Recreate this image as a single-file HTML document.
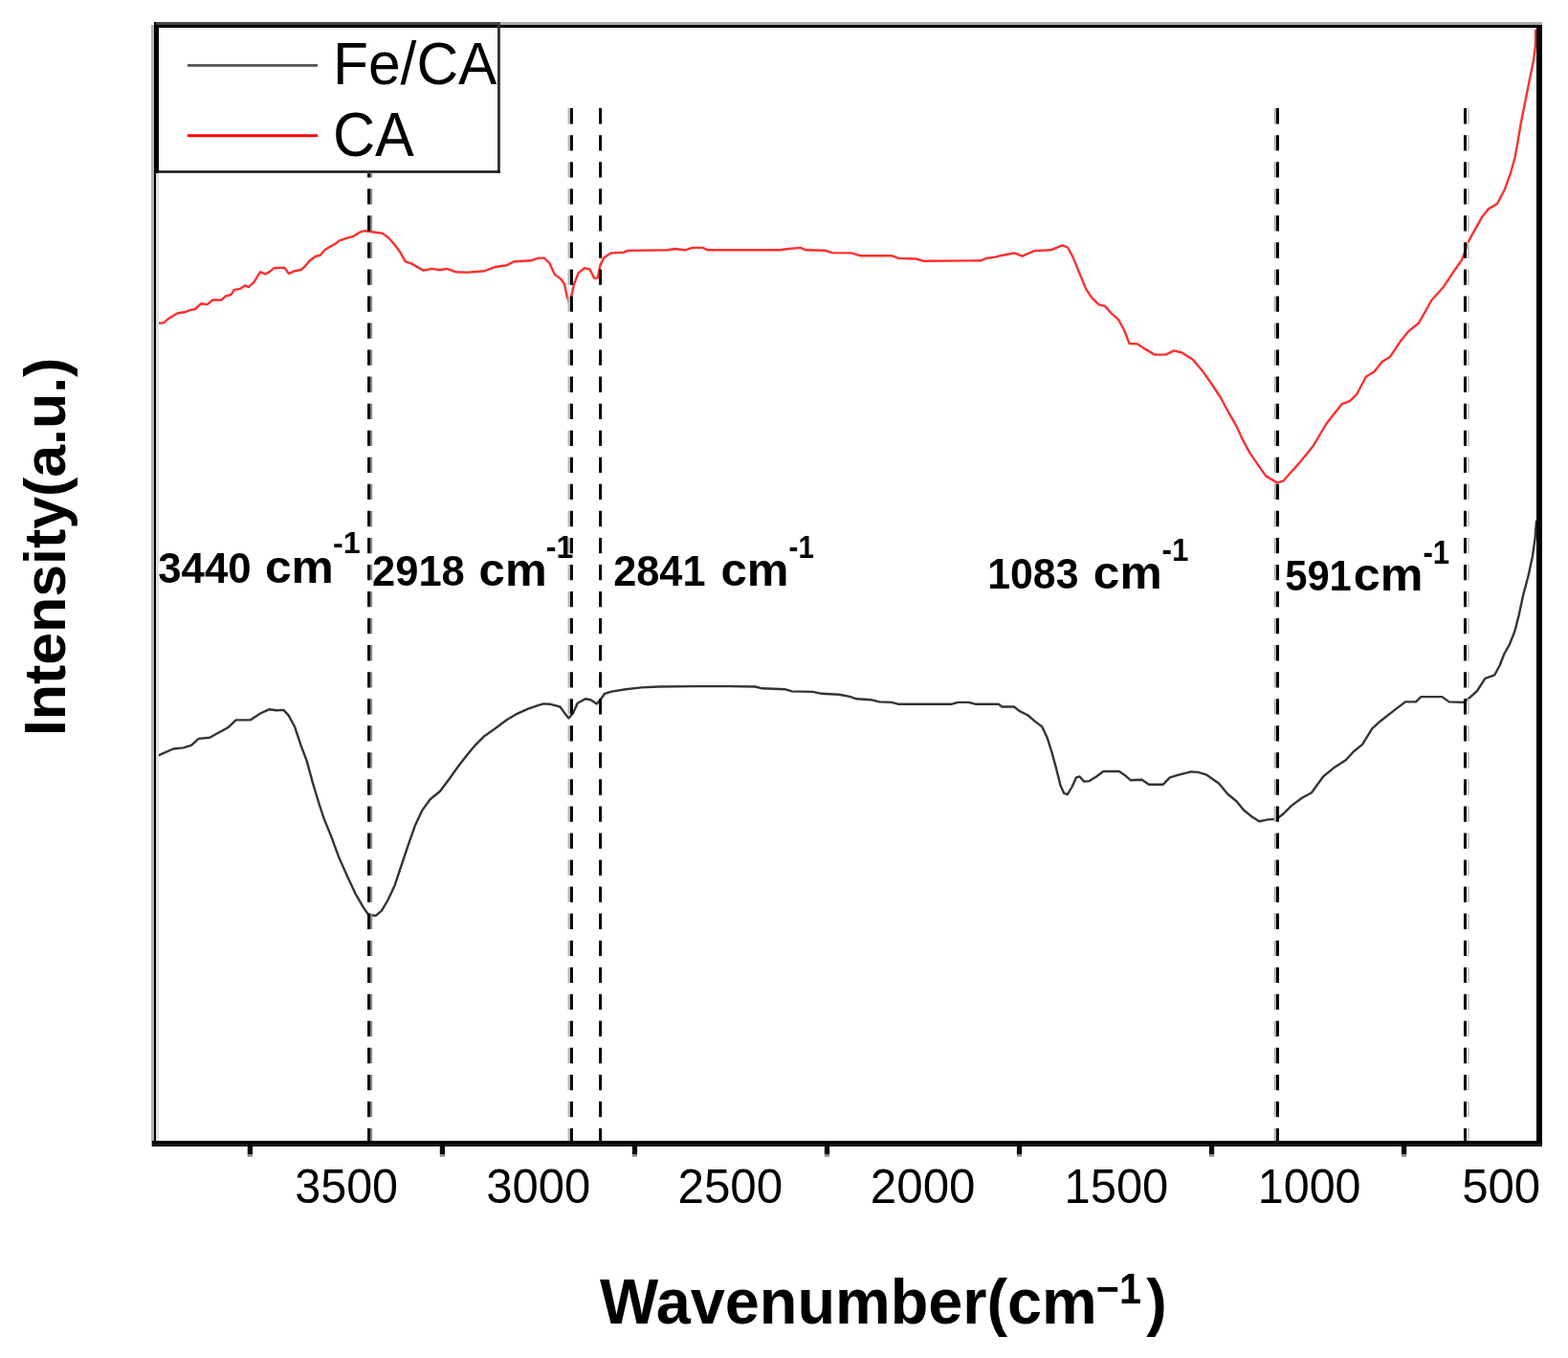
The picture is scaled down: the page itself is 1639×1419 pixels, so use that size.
<!DOCTYPE html>
<html lang="en">
<head>
<meta charset="utf-8">
<title>FTIR spectra of Fe/CA and CA</title>
<style>
html,body{margin:0;padding:0;background:#fff;}
body{width:1639px;height:1419px;}
svg{display:block;}
text{font-family:"Liberation Sans", sans-serif;fill:#000;white-space:pre;}
.b{font-weight:bold;}
</style>
</head>
<body>
<svg width="1639" height="1419" viewBox="0 0 1639 1419">
<rect x="0" y="0" width="1639" height="1419" fill="#ffffff"/>

<polyline points="160.9,338.2 171.0,337.3 176.5,332.7 185.6,327.2 193.0,326.3 198.4,324.1 204.0,323.0 210.3,317.2 216.7,318.1 222.2,313.5 231.4,313.5 236.0,309.3 241.5,308.0 244.6,302.9 251.5,301.6 256.1,298.5 259.8,299.8 265.3,295.2 272.0,284.2 277.2,286.4 281.7,284.2 286.3,280.2 297.3,279.6 301.9,286.0 307.4,283.3 314.7,282.0 319.3,277.8 323.8,272.3 330.2,267.7 334.8,266.8 339.4,261.3 344.9,257.7 350.4,254.9 355.0,251.3 361.4,249.1 368.7,247.2 376.0,242.7 381.5,241.2 390.6,242.5 399.8,243.9 406.2,248.5 412.6,255.8 418.1,263.2 423.6,273.2 430.0,275.4 436.4,279.1 442.8,282.7 451.0,280.9 460.0,282.0 467.3,280.9 476.5,284.2 489.3,284.6 505.8,283.3 518.6,278.7 529.6,277.2 537.8,273.2 555.2,272.3 562.5,269.6 568.9,269.6 574.4,275.0 579.9,286.9 586.3,291.5 590.0,297.0 592.7,309.8 594.9,316.2 597.6,308.0 600.0,297.0 604.6,285.1 611.0,280.2 616.5,281.5 621.1,290.6 624.7,290.6 627.5,276.9 631.1,269.6 638.5,264.4 652.2,263.7 655.9,261.9 698.0,261.3 705.3,260.0 716.3,261.3 723.6,258.9 734.6,258.9 740.0,261.3 760.0,261.3 814.9,261.3 824.0,260.0 836.9,258.9 842.4,261.3 862.5,261.7 869.8,264.1 890.0,264.4 899.1,267.2 932.0,267.2 939.4,269.9 957.7,270.5 965.0,272.7 1025.4,272.3 1030.9,269.9 1040.0,268.6 1045.6,267.2 1060.0,264.4 1068.5,267.6 1081.1,262.1 1098.1,261.3 1110.7,256.4 1116.0,258.5 1121.3,268.1 1127.7,283.9 1135.1,301.9 1141.4,311.4 1148.8,318.4 1155.1,319.9 1161.5,327.3 1168.9,333.6 1175.2,345.2 1180.5,359.0 1189.0,359.4 1197.4,364.9 1206.9,370.6 1218.6,370.6 1227.0,366.4 1235.5,368.5 1247.1,375.9 1257.7,388.6 1267.2,402.3 1275.6,415.0 1284.1,430.8 1292.6,445.6 1298.9,459.4 1306.3,473.1 1315.8,486.9 1323.2,497.4 1334.8,504.4 1341.2,502.7 1349.6,493.2 1360.1,481.6 1372.8,465.7 1386.6,442.5 1402.4,422.4 1410.9,419.2 1418.3,411.8 1427.8,393.8 1436.3,388.6 1444.7,378.0 1453.2,372.7 1463.7,356.8 1472.2,346.3 1482.8,337.8 1491.2,323.0 1496.5,313.5 1508.1,300.8 1518.7,285.0 1528.2,271.2 1535.6,251.1 1542.5,238.6 1549.5,226.2 1555.7,218.4 1565.0,213.0 1572.7,198.3 1578.9,181.2 1583.6,164.2 1586.7,147.1 1589.8,128.5 1592.9,113.0 1596.0,97.5 1599.1,82.0 1602.9,63.4 1605.0,47.9 1605.3,29.3" fill="none" stroke="#ff0000" stroke-opacity="0.82" stroke-width="2.4" stroke-linejoin="round" stroke-linecap="butt"/>
<polyline points="162.1,790.9 170.6,787.1 181.1,782.5 191.7,781.4 200.2,778.6 207.6,771.9 219.2,770.8 227.7,766.0 238.2,760.3 246.7,752.4 261.5,752.4 272.1,745.5 281.6,741.2 289.0,742.3 296.4,741.9 301.7,747.6 308.0,759.2 314.3,778.2 320.7,795.1 327.0,818.4 333.4,839.5 338.6,855.4 346.0,873.4 354.5,896.6 363.0,915.6 371.4,933.6 379.9,948.4 385.2,955.8 392.6,956.9 398.9,951.6 405.2,941.0 412.6,925.2 420.0,903.0 426.4,883.9 433.8,862.8 441.2,846.9 449.6,835.3 460.0,826.8 469.2,814.5 478.3,801.7 487.5,789.8 496.6,778.8 505.8,769.6 518.6,760.5 529.6,752.2 540.5,745.8 551.5,740.9 560.7,737.6 568.0,735.4 575.3,735.8 585.4,738.5 590.0,744.9 594.5,750.4 599.1,744.9 603.7,734.8 611.9,730.3 617.4,731.2 623.8,735.4 627.5,731.2 632.1,724.8 639.4,722.6 654.0,720.2 670.5,718.4 688.8,717.5 725.4,717.1 760.0,717.1 789.3,717.5 796.6,719.3 820.4,720.2 827.7,722.4 849.7,722.9 858.8,724.8 877.1,725.7 888.1,727.9 895.5,730.3 910.1,731.2 919.3,733.4 932.1,733.9 939.4,735.8 994.3,735.8 1001.6,733.9 1012.6,733.9 1019.9,735.8 1043.7,735.8 1047.4,738.5 1060.0,738.5 1065.5,742.9 1074.6,747.5 1082.0,753.9 1089.3,759.4 1094.8,771.3 1099.4,785.9 1103.9,802.4 1108.5,820.7 1112.2,828.9 1115.8,830.2 1120.4,822.5 1125.0,812.4 1128.6,811.5 1133.2,816.6 1138.7,816.1 1146.0,811.5 1153.4,806.0 1169.8,806.0 1175.3,809.7 1181.7,815.2 1193.6,814.8 1200.9,819.8 1215.6,819.8 1222.9,812.4 1232.1,809.7 1244.9,806.4 1252.2,806.9 1261.4,809.7 1274.2,818.8 1283.3,829.8 1292.5,837.2 1299.8,846.3 1308.9,853.6 1316.3,858.2 1325.4,856.4 1334.6,855.8 1341.9,850.0 1350.0,841.9 1361.0,833.7 1371.0,828.2 1382.9,811.7 1393.9,802.6 1406.7,794.3 1415.0,785.2 1424.1,777.9 1434.2,761.4 1443.3,753.2 1456.2,743.1 1469.0,733.4 1480.0,733.4 1485.4,728.1 1507.4,728.1 1514.7,733.4 1529.4,733.9 1535.8,729.4 1544.0,722.0 1552.4,708.9 1562.3,705.3 1567.9,694.8 1572.2,683.5 1577.8,673.6 1583.4,659.5 1587.7,642.6 1591.9,622.9 1597.5,601.7 1601.8,582.0 1604.6,562.3 1606.0,544.0" fill="none" stroke="#111111" stroke-opacity="0.85" stroke-width="2.4" stroke-linejoin="round" stroke-linecap="butt"/>
<g fill="none">
<line x1="388.15" y1="113.1" x2="388.15" y2="1193" stroke="#8a8a8a" stroke-width="2.10" stroke-dasharray="16.3 11.75"/>
<line x1="385.60" y1="113.1" x2="385.60" y2="1193" stroke="#000" stroke-width="3.00" stroke-dasharray="16.3 11.75"/>
<line x1="594.75" y1="113.1" x2="594.75" y2="1193" stroke="#bbbbbb" stroke-width="2.50" stroke-dasharray="16.3 11.75"/>
<line x1="597.45" y1="113.1" x2="597.45" y2="1193" stroke="#000" stroke-width="2.90" stroke-dasharray="16.3 11.75"/>
<line x1="627.55" y1="113.1" x2="627.55" y2="1193" stroke="#000" stroke-width="2.90" stroke-dasharray="16.3 11.75"/>
<line x1="1332.75" y1="113.1" x2="1332.75" y2="1193" stroke="#bbbbbb" stroke-width="2.30" stroke-dasharray="16.3 11.75"/>
<line x1="1335.45" y1="113.1" x2="1335.45" y2="1193" stroke="#000" stroke-width="3.10" stroke-dasharray="16.3 11.75"/>
<line x1="1534.85" y1="113.1" x2="1534.85" y2="1193" stroke="#cccccc" stroke-width="2.10" stroke-dasharray="16.3 11.75"/>
<line x1="1531.50" y1="113.1" x2="1531.50" y2="1193" stroke="#000" stroke-width="3.00" stroke-dasharray="16.3 11.75"/>
</g>
<rect x="160.7" y="23.3" width="362.3" height="157.8" fill="#fff"/>
<line x1="195.9" y1="68.4" x2="332.0" y2="68.4" stroke="#555" stroke-width="2.9"/>
<line x1="195.9" y1="141.7" x2="332.0" y2="141.7" stroke="#ff0000" stroke-width="2.9"/>
<text x="347.91" y="87.58" font-size="62.04" textLength="171.59" lengthAdjust="spacingAndGlyphs">Fe/CA</text>
<text x="347.94" y="162.56" font-size="63.89" textLength="84.96" lengthAdjust="spacingAndGlyphs">CA</text>
<g shape-rendering="crispEdges">
<rect x="160.7" y="23.3" width="1451.2" height="2.7" fill="#aaaaaa"/>
<rect x="160.7" y="23.3" width="362.3" height="2.7" fill="#444444"/>
<rect x="160.7" y="26" width="1451.2" height="2.75" fill="#000"/>
<rect x="160.7" y="28.75" width="1446" height="2.2" fill="#f0f0f0"/>
<rect x="158" y="26" width="2.7" height="1171.8" fill="#b3b3b3"/>
<rect x="160.7" y="23.3" width="2.3" height="1174.5" fill="#000"/>
<rect x="163" y="181.1" width="2.8" height="1011.5" fill="#e0e0e0"/>
<rect x="163" y="26" width="2.8" height="155.1" fill="#000"/>
<rect x="1606.4" y="26" width="5.5" height="1171.8" fill="#000"/>
<rect x="159.2" y="1192.3" width="1452.7" height="2.8" fill="#000"/>
<rect x="159.2" y="1195.1" width="1452.7" height="2.7" fill="#1a1a1a"/>
</g>
<rect x="520.0" y="26" width="2.9" height="154.8" fill="#333"/>
<rect x="163" y="178.2" width="359.9" height="2.6" fill="#1a1a1a"/>
<rect x="258.75" y="1195" width="5.3" height="11" fill="#0a0a0a"/><rect x="258.75" y="1206" width="5.3" height="2.7" fill="#8a8a8a"/>
<rect x="459.78" y="1195" width="5.3" height="11" fill="#0a0a0a"/><rect x="459.78" y="1206" width="5.3" height="2.7" fill="#8a8a8a"/>
<rect x="660.81" y="1195" width="5.3" height="11" fill="#0a0a0a"/><rect x="660.81" y="1206" width="5.3" height="2.7" fill="#8a8a8a"/>
<rect x="861.84" y="1195" width="5.3" height="11" fill="#0a0a0a"/><rect x="861.84" y="1206" width="5.3" height="2.7" fill="#8a8a8a"/>
<rect x="1062.87" y="1195" width="5.3" height="11" fill="#0a0a0a"/><rect x="1062.87" y="1206" width="5.3" height="2.7" fill="#8a8a8a"/>
<rect x="1263.90" y="1195" width="5.3" height="11" fill="#0a0a0a"/><rect x="1263.90" y="1206" width="5.3" height="2.7" fill="#8a8a8a"/>
<rect x="1464.93" y="1195" width="5.3" height="11" fill="#0a0a0a"/><rect x="1464.93" y="1206" width="5.3" height="2.7" fill="#8a8a8a"/>
<text x="308.18" y="1257.21" font-size="49.47" textLength="107.95" lengthAdjust="spacingAndGlyphs">3500</text>
<text x="508.36" y="1257.21" font-size="49.47" textLength="108.98" lengthAdjust="spacingAndGlyphs">3000</text>
<text x="708.53" y="1257.21" font-size="49.47" textLength="109.72" lengthAdjust="spacingAndGlyphs">2500</text>
<text x="909.84" y="1257.21" font-size="49.47" textLength="109.62" lengthAdjust="spacingAndGlyphs">2000</text>
<text x="1112.53" y="1257.21" font-size="49.47" textLength="108.81" lengthAdjust="spacingAndGlyphs">1500</text>
<text x="1314.87" y="1257.21" font-size="49.47" textLength="107.65" lengthAdjust="spacingAndGlyphs">1000</text>
<text x="1528.24" y="1257.21" font-size="49.47" textLength="81.96" lengthAdjust="spacingAndGlyphs">500</text>
<text class="b" y="608.56"><tspan x="165.22" dy="0.00" font-size="43.52" textLength="97.33" lengthAdjust="spacingAndGlyphs">3440</tspan> <tspan x="276.91" dy="0.06" font-size="48.40" textLength="71.92" lengthAdjust="spacingAndGlyphs">cm</tspan><tspan x="347.91" dy="-30.22" font-size="32.15" textLength="28.71" lengthAdjust="spacingAndGlyphs">-1</tspan></text>
<text class="b" y="612.36"><tspan x="389.08" dy="0.00" font-size="43.67" textLength="96.72" lengthAdjust="spacingAndGlyphs">2918</tspan> <tspan x="500.63" dy="-0.05" font-size="48.40" textLength="71.06" lengthAdjust="spacingAndGlyphs">cm</tspan><tspan x="570.82" dy="-28.82" font-size="33.16" textLength="28.50" lengthAdjust="spacingAndGlyphs">-1</tspan></text>
<text class="b" y="612.36"><tspan x="641.19" dy="0.00" font-size="43.67" textLength="96.26" lengthAdjust="spacingAndGlyphs">2841</tspan> <tspan x="753.53" dy="-0.05" font-size="48.40" textLength="71.06" lengthAdjust="spacingAndGlyphs">cm</tspan><tspan x="824.62" dy="-28.82" font-size="33.16" textLength="26.33" lengthAdjust="spacingAndGlyphs">-1</tspan></text>
<text class="b" y="614.95"><tspan x="1032.22" dy="0.00" font-size="43.66" textLength="95.27" lengthAdjust="spacingAndGlyphs">1083</tspan> <tspan x="1142.81" dy="0.06" font-size="48.95" textLength="71.81" lengthAdjust="spacingAndGlyphs">cm</tspan><tspan x="1214.55" dy="-29.31" font-size="34.04" textLength="27.85" lengthAdjust="spacingAndGlyphs">-1</tspan></text>
<text class="b" y="617.46"><tspan x="1343.25" dy="0.00" font-size="43.67" textLength="69.50" lengthAdjust="spacingAndGlyphs">591</tspan><tspan x="1414.89" dy="-0.05" font-size="48.40" textLength="72.67" lengthAdjust="spacingAndGlyphs">cm</tspan><tspan x="1487.45" dy="-28.82" font-size="34.18" textLength="27.85" lengthAdjust="spacingAndGlyphs">-1</tspan></text>
<text class="b" y="1382.7" font-size="67.0"><tspan x="626.94" textLength="519.80" lengthAdjust="spacingAndGlyphs">Wavenumber(cm</tspan><tspan x="1145.74" dy="-20.30" font-size="44.51" textLength="47.27" lengthAdjust="spacingAndGlyphs">−1</tspan><tspan x="1198.34" dy="20.30" textLength="21.58" lengthAdjust="spacingAndGlyphs">)</tspan></text>
<text class="b" transform="translate(67.7,769.11) rotate(-90)" font-size="62.0" textLength="395.39" lengthAdjust="spacingAndGlyphs">Intensity(a.u.)</text>
</svg>
</body>
</html>
